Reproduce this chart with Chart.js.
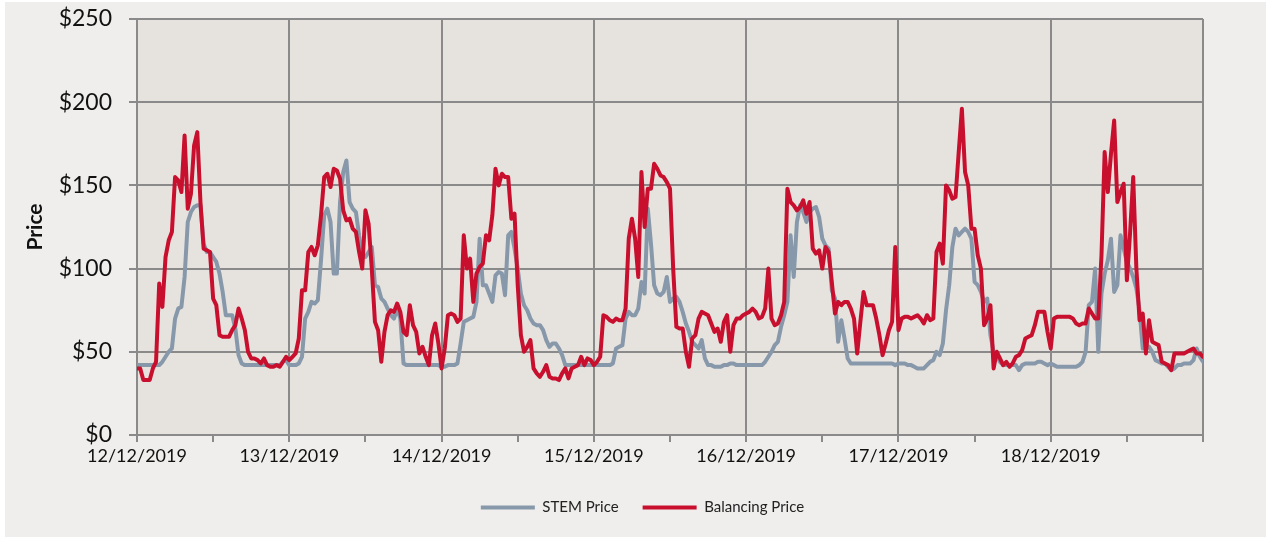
<!DOCTYPE html>
<html lang="en">
<head>
    <meta charset="UTF-8">
    <title>STEM Price vs Balancing Price</title>
    <script src="https://cdn.jsdelivr.net/npm/chart.js"></script>
    <style>
        body { margin: 0; background: #ffffff; }
        .chart-box {
            position: absolute;
            left: 5px;
            top: 2px;
            width: 1261px;
            height: 535px;
            background: #efeeec;
        }
    </style>
</head>
<body>
<div class="chart-box">
    <canvas id="priceChart" width="1261" height="535"></canvas>
</div>

<script>
    // one label per day, data is half-hourly (48 slots a day)
    const dayLabels = ["12/12/2019", "13/12/2019", "14/12/2019", "15/12/2019", "16/12/2019", "17/12/2019", "18/12/2019"];
    const slotsPerDay = 48;

    const stemPrice = [
        // 12/12
        42, 42, 42, 42, 42, 42, 42, 42, 44, 47, 50, 52, 70, 76, 77, 95, 128, 134, 137, 138, 138, 115, 110, 110,
        107, 104, 97, 86, 72, 72, 72, 64, 48, 43, 42, 42, 42, 42, 42, 42, 42, 42, 42, 42, 42, 42, 44, 45,
        // 13/12
        42, 42, 42, 43, 47, 70, 74, 80, 79, 81, 105, 132, 136, 128, 97, 97, 140, 158, 165, 140, 136, 134, 120, 108,
        107, 110, 113, 90, 89, 82, 80, 76, 72, 70, 76, 70, 43, 42, 42, 42, 42, 42, 42, 42, 42, 42, 42, 42,
        // 14/12
        41, 41, 42, 42, 42, 43, 55, 68, 69, 70, 71, 80, 118, 90, 90, 85, 80, 96, 98, 97, 84, 120, 122, 112,
        100, 85, 78, 75, 70, 67, 66, 66, 63, 57, 53, 55, 55, 52, 48, 42, 42, 42, 42, 42, 42, 42, 42, 42,
        // 15/12
        42, 42, 42, 42, 42, 42, 43, 52, 53, 54, 70, 74, 72, 72, 76, 92, 85, 136, 115, 90, 85, 84, 86, 95,
        80, 82, 83, 80, 74, 67, 62, 56, 54, 52, 57, 46, 42, 42, 41, 41, 41, 42, 42, 43, 43, 42, 42, 42,
        // 16/12
        42, 42, 42, 42, 42, 42, 44, 47, 50, 54, 56, 65, 72, 80, 120, 95, 128, 138, 134, 128, 134, 136, 137, 131,
        118, 114, 112, 87, 82, 56, 69, 58, 46, 43, 43, 43, 43, 43, 43, 43, 43, 43, 43, 43, 43, 43, 43, 42,
        // 17/12
        43, 43, 43, 42, 42, 41, 40, 40, 40, 42, 44, 45, 50, 48, 55, 75, 90, 113, 124, 120, 122, 124, 122, 118,
        92, 90, 86, 80, 82, 60, 50, 48, 44, 42, 42, 42, 42, 42, 39, 42, 43, 43, 43, 43, 44, 44, 43, 42,
        // 18/12 (+ closing point)
        43, 42, 41, 41, 41, 41, 41, 41, 41, 42, 44, 50, 78, 80, 100, 50, 85, 97, 105, 118, 86, 90, 120, 112,
        104, 100, 95, 88, 75, 52, 54, 53, 50, 45, 44, 43, 43, 41, 39, 40, 42, 42, 43, 43, 43, 45, 52, 47, 44
    ];

    const balancingPrice = [
        // 12/12
        40, 40, 33, 33, 33, 40, 44, 91, 77, 107, 117, 122, 155, 153, 146, 180, 136, 145, 174, 182, 140, 112, 111, 110,
        82, 78, 60, 59, 59, 59, 63, 66, 76, 70, 63, 50, 46, 46, 45, 43, 46, 42, 41, 41, 42, 41, 44, 47,
        // 13/12
        45, 47, 49, 58, 87, 87, 110, 113, 108, 114, 132, 155, 157, 149, 160, 159, 154, 135, 129, 130, 124, 122, 110, 100,
        135, 127, 100, 68, 63, 44, 62, 72, 75, 74, 79, 74, 62, 60, 78, 66, 62, 49, 53, 47, 42, 60, 67, 55,
        // 14/12
        40, 52, 72, 73, 72, 68, 70, 120, 100, 106, 80, 97, 101, 103, 120, 117, 132, 160, 150, 157, 155, 155, 130, 133,
        90, 60, 50, 53, 57, 40, 37, 35, 38, 42, 35, 34, 34, 33, 37, 40, 34, 40, 41, 42, 47, 42, 46, 45,
        // 15/12
        42, 44, 47, 72, 71, 69, 68, 70, 69, 69, 76, 118, 130, 118, 95, 158, 125, 148, 148, 163, 160, 156, 155, 152,
        148, 100, 65, 64, 64, 50, 41, 58, 60, 70, 74, 73, 72, 67, 62, 64, 56, 68, 72, 50, 66, 70, 70, 72,
        // 16/12
        73, 74, 76, 74, 70, 71, 76, 100, 70, 66, 67, 72, 80, 148, 140, 138, 135, 137, 141, 133, 140, 112, 109, 111,
        100, 113, 110, 92, 73, 80, 78, 80, 80, 76, 70, 49, 68, 86, 78, 78, 78, 70, 60, 48, 55, 63, 68, 113,
        // 17/12
        63, 70, 71, 71, 70, 71, 72, 70, 67, 72, 69, 70, 110, 115, 103, 150, 147, 142, 143, 170, 196, 158, 150, 124,
        124, 108, 100, 66, 70, 78, 40, 50, 46, 42, 44, 41, 43, 47, 48, 51, 58, 59, 60, 66, 74, 74, 74, 62,
        // 18/12 (+ closing point)
        52, 70, 71, 71, 71, 71, 71, 70, 67, 66, 67, 67, 76, 73, 70, 70, 108, 170, 146, 169, 189, 140, 146, 151,
        93, 121, 155, 100, 69, 73, 49, 69, 56, 55, 54, 44, 43, 42, 39, 49, 49, 49, 49, 50, 51, 52, 49, 49, 47
    ];

    const slots = stemPrice.map((v, i) => i);
    const gridGrey = '#8a8a8a';

    // shade the plot area like the original
    const plotBackground = {
        id: 'plotBackground',
        beforeDraw(chart) {
            const a = chart.chartArea;
            chart.ctx.save();
            chart.ctx.fillStyle = '#e6e3df';
            chart.ctx.fillRect(a.left, a.top, a.right - a.left, a.bottom - a.top);
            chart.ctx.restore();
        }
    };

    const ctx = document.getElementById('priceChart').getContext('2d');
    const priceChart = new Chart(ctx, {
        type: 'line',
        data: {
            labels: slots,
            datasets: [{
                label: 'Balancing Price',
                data: balancingPrice,
                borderColor: '#c8102e',
                backgroundColor: '#c8102e',
                borderWidth: 4,
                pointRadius: 0,
                tension: 0,
                borderJoinStyle: 'round',
                borderCapStyle: 'round'
            }, {
                label: 'STEM Price',
                data: stemPrice,
                borderColor: '#8798aa',
                backgroundColor: '#8798aa',
                borderWidth: 4,
                pointRadius: 0,
                tension: 0,
                borderJoinStyle: 'round',
                borderCapStyle: 'round'
            }]
        },
        options: {
            responsive: false,
            animation: false,
            layout: { padding: { left: 14, right: 0, top: 17, bottom: 12 } },
            plugins: {
                tooltip: { enabled: false },
                legend: {
                    position: 'bottom',
                    reverse: true,
                    labels: {
                        usePointStyle: true,
                        pointStyle: 'line',
                        pointStyleWidth: 54,
                        padding: 24,
                        color: '#222',
                        font: { family: 'Lato', size: 15 }
                    }
                }
            },
            scales: {
                x: {
                    type: 'linear',
                    min: 0,
                    max: dayLabels.length * slotsPerDay,
                    afterFit: (s) => { s.height = 41; },
                    border: { color: gridGrey, width: 2 },
                    grid: {
                        lineWidth: 2,
                        tickLength: 7,
                        tickColor: gridGrey,
                        color: (c) => (c.tick && c.tick.value % slotsPerDay === 0) ? gridGrey : 'rgba(0,0,0,0)'
                    },
                    ticks: {
                        stepSize: slotsPerDay / 2,
                        autoSkip: false,
                        maxRotation: 0,
                        padding: 3,
                        color: '#111',
                        font: { family: 'Lato', size: 18 },
                        callback: (v) => (v % slotsPerDay === 0 && v / slotsPerDay < dayLabels.length) ? dayLabels[v / slotsPerDay] : ''
                    }
                },
                y: {
                    min: 0,
                    max: 250,
                    // fixed width, and don't let the label padding push the plot down
                    afterFit: (s) => { s.width = 118; s.paddingTop = 0; s.paddingBottom = 0; },
                    border: { color: gridGrey, width: 2 },
                    grid: { color: gridGrey, lineWidth: 2, tickLength: 8 },
                    ticks: {
                        stepSize: 50,
                        padding: 17,
                        color: '#111',
                        font: { family: 'Lato', size: 23 },
                        callback: (v) => '$' + v
                    },
                    title: {
                        display: true,
                        text: 'Price',
                        color: '#111',
                        padding: { top: 4, bottom: 0 },
                        font: { family: 'Lato', size: 21, weight: 'bold' }
                    }
                },
                // empty spacer on the right so the legend centres like the original
                yRight: {
                    position: 'right',
                    afterFit: (s) => { s.width = 63; },
                    grid: { display: false },
                    border: { display: false },
                    ticks: { display: false }
                }
            }
        },
        plugins: [plotBackground]
    });
</script>
</body>
</html>
